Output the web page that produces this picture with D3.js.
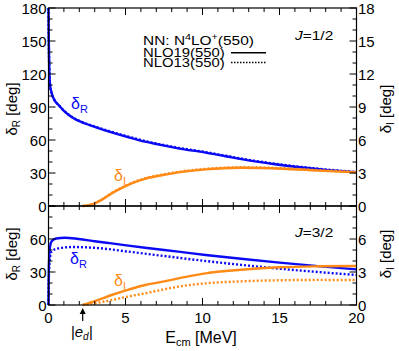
<!DOCTYPE html>
<html>
<head>
<script src="https://d3js.org/d3.v7.min.js"></script>
<style>
  body { margin: 0; background: #fff; }
  text { font-family: "Liberation Sans", Arial, sans-serif; }
  .frame { fill: none; stroke: #000; stroke-width: 1.2px; }
  .curve { fill: none; stroke-width: 2.4px; }
</style>
</head>
<body>
<div id="chart"></div>
<script>
// J=1/2 panel
const topRE = [0, 0.02, 0.05, 0.1, 0.2, 0.4, 0.64, 1.0, 1.5, 2.37, 3.0, 4.1, 5.2, 6.27, 7.35, 8.43, 10.2, 11.5, 13.1, 14.7, 16.3, 18.0, 20];
const topRSolid = [180, 150, 125, 110, 103, 96, 92, 86.5, 81, 75, 72, 67, 62.5, 58.5, 55.3, 52.4, 48.5, 45.2, 41.2, 38, 35.2, 32.8, 30.6];
const topRDotted = [180, 150, 125, 110, 103, 96, 92, 86.6, 81.2, 75.3, 72.3, 67.4, 63, 59, 55.8, 52.9, 49, 45.7, 41.7, 38.5, 35.7, 33.2, 31];
const topIE = [2.22, 2.6, 3.0, 3.5, 4.1, 4.7, 5.4, 6.2, 7.1, 8.43, 10.2, 12.4, 15.2, 17.5, 20];
const topISolid = [0, 0.08, 0.24, 0.6, 1.15, 1.6, 2.06, 2.45, 2.73, 3.06, 3.33, 3.48, 3.39, 3.22, 3.06];
const topIDotted = [0, 0.08, 0.25, 0.62, 1.18, 1.63, 2.09, 2.49, 2.78, 3.11, 3.38, 3.52, 3.43, 3.26, 3.09];

// J=3/2 panel
const botRE = [0, 0.02, 0.05, 0.1, 0.2, 0.5, 1.07, 1.94, 3.0, 4.1, 6.27, 8.43, 10.2, 12.5, 15, 17.5, 20];
const botRSolid = [0, 30, 45, 53, 58, 60.5, 61.2, 60, 58, 56, 52, 48.5, 45.5, 42, 38.5, 35.3, 32.4];
const botRDotE = [0, 0.02, 0.05, 0.1, 0.2, 0.64, 1.5, 3.0, 5.2, 7.35, 10.2, 12.5, 15, 17.5, 20];
const botRDotted = [0, 22, 35, 43, 48.5, 51.5, 52.7, 52, 48.5, 44.8, 40, 36.5, 33, 30, 27.3];
const botIE = [2.22, 3, 4.1, 5.2, 6.27, 7.35, 8.43, 10.2, 12.5, 15, 17.5, 20];
const botISolid = [0, 0.35, 0.91, 1.4, 1.82, 2.1, 2.42, 2.88, 3.2, 3.43, 3.52, 3.55];
const botIDotted = [0, 0.15, 0.45, 0.78, 1.06, 1.38, 1.67, 1.97, 2.15, 2.25, 2.28, 2.27];

const xTicks = [0, 5, 10, 15, 20];
const edThreshold = 2.22;

const width = 399, height = 351;
const blue = "#0a0af5", orange = "#ff8a16";
const left = 48.5, right = 356.5;
const stretch = 1.19; // the reference font is drawn wide

const svg = d3.select("#chart").append("svg")
  .attr("width", width).attr("height", height);

const x = d3.scaleLinear().domain([0, 20]).range([left, right]);

const panels = [
  { top: 8, bottom: 206, yMax: 180, yTicks: d3.range(0, 181, 30), iTicks: d3.range(0, 19, 3), showX: false,
    label: "1/2", labelY: 40, titleY: 109,
    curves: [
      { e: topRE, v: topRSolid, c: blue, dash: null, axis: "R" },
      { e: topRE, v: topRDotted, c: blue, dash: "2,2", axis: "R" },
      { e: topIE, v: topISolid, c: orange, dash: null, axis: "I" },
      { e: topIE, v: topIDotted, c: orange, dash: "2,2", axis: "I" }
    ],
    dR: [71, 109], dI: [114, 181] },
  { top: 206, bottom: 305, yMax: 90, yTicks: [0, 30, 60], iTicks: [0, 3, 6], showX: true,
    label: "3/2", labelY: 237, titleY: 254,
    curves: [
      { e: botRE, v: botRSolid, c: blue, dash: null, axis: "R" },
      { e: botRDotE, v: botRDotted, c: blue, dash: "2,2", axis: "R" },
      { e: botIE, v: botISolid, c: orange, dash: null, axis: "I" },
      { e: botIE, v: botIDotted, c: orange, dash: "2,2", axis: "I" }
    ],
    dR: [70, 264], dI: [114, 286] }
];

panels.forEach(p => {
  const y = d3.scaleLinear().domain([0, p.yMax]).range([p.bottom, p.top]);
  const yI = d3.scaleLinear().domain([0, p.yMax / 10]).range([p.bottom, p.top]);
  const g = svg.append("g");

  // curves
  p.curves.forEach(cv => {
    const sc = cv.axis === "R" ? y : yI;
    const line = d3.line().x(d => x(d[0])).y(d => sc(d[1])).curve(d3.curveMonotoneX);
    g.append("path")
      .datum(cv.e.map((e, i) => [e, cv.v[i]]))
      .attr("class", "curve")
      .attr("stroke", cv.c)
      .attr("stroke-dasharray", cv.dash)
      .attr("d", line);
  });

  // ticks: x minor every 1, major every 5
  d3.range(0, 21, 1).forEach(t => {
    const len = t % 5 === 0 ? 7 : 4;
    g.append("line").attr("x1", x(t)).attr("x2", x(t)).attr("y1", p.bottom).attr("y2", p.bottom - len).attr("stroke", "#000");
    g.append("line").attr("x1", x(t)).attr("x2", x(t)).attr("y1", p.top).attr("y2", p.top + len).attr("stroke", "#000");
  });
  d3.range(0, p.yMax + 1, 10).forEach(t => {
    const len = t % 30 === 0 ? 7 : 4;
    g.append("line").attr("x1", left).attr("x2", left + len).attr("y1", y(t)).attr("y2", y(t)).attr("stroke", "#000");
    g.append("line").attr("x1", right).attr("x2", right - len).attr("y1", y(t)).attr("y2", y(t)).attr("stroke", "#000");
  });

  g.append("rect").attr("class", "frame")
    .attr("x", left).attr("y", p.top).attr("width", right - left).attr("height", p.bottom - p.top);

  // tick labels
  p.yTicks.forEach(t => {
    g.append("text").attr("x", left - 2).attr("y", y(t) + 5.5).attr("text-anchor", "end")
      .attr("font-size", 15).text(t);
  });
  p.iTicks.forEach(t => {
    g.append("text").attr("x", right + 1.5).attr("y", yI(t) + 5.5).attr("text-anchor", "start")
      .attr("font-size", 15).text(t);
  });

  // axis titles
  const tl = g.append("text").attr("transform", `translate(17,${p.titleY}) rotate(-90)`)
    .attr("text-anchor", "middle").attr("font-size", 15);
  tl.append("tspan").text("δ");
  tl.append("tspan").attr("font-size", 10).attr("dy", 3).text("R");
  tl.append("tspan").attr("dy", -3).text(" [deg]");
  const tr = g.append("text").attr("transform", `translate(391,${p.titleY}) rotate(-90)`)
    .attr("text-anchor", "middle").attr("font-size", 15);
  tr.append("tspan").text("δ");
  tr.append("tspan").attr("font-size", 10).attr("dy", 3).text("I");
  tr.append("tspan").attr("dy", -3).text(" [deg]");

  // J labels
  const jl = g.append("text").attr("transform", `translate(295,${p.labelY}) scale(${stretch},1)`).attr("font-size", 13);
  jl.append("tspan").attr("font-style", "italic").text("J");
  jl.append("tspan").text("=" + p.label);

  // curve labels
  const lr = g.append("text").attr("x", p.dR[0]).attr("y", p.dR[1]).attr("fill", blue).attr("font-size", 16);
  lr.append("tspan").text("δ");
  lr.append("tspan").attr("font-size", 11).attr("dy", 4).text("R");
  const li = g.append("text").attr("x", p.dI[0]).attr("y", p.dI[1]).attr("fill", orange).attr("font-size", 16);
  li.append("tspan").text("δ");
  li.append("tspan").attr("font-size", 11).attr("dy", 4).text("I");

  if (p.showX) {
    xTicks.forEach(t => {
      g.append("text").attr("x", x(t)).attr("y", 322.5).attr("text-anchor", "middle")
        .attr("font-size", 15).text(t);
    });
  }
});

// legend
const lg = svg.append("g").attr("transform", `translate(143,0) scale(${stretch},1)`);
const t1 = lg.append("text").attr("x", 0).attr("y", 45).attr("font-size", 13);
t1.append("tspan").text("NN: N");
t1.append("tspan").attr("font-size", 9).attr("dy", -5).text("4");
t1.append("tspan").attr("dy", 5).text("LO");
t1.append("tspan").attr("font-size", 9).attr("dy", -5).text("+");
t1.append("tspan").attr("dy", 5).text("(550)");
lg.append("text").attr("x", 0).attr("y", 57.5).attr("font-size", 12.5).text("NLO19(550)");
lg.append("text").attr("x", 0).attr("y", 67.5).attr("font-size", 12.5).text("NLO13(550)");
svg.append("line").attr("x1", 231).attr("x2", 266).attr("y1", 52.7).attr("y2", 52.7).attr("stroke", "#000").attr("stroke-width", 1.5);
svg.append("line").attr("x1", 231).attr("x2", 266).attr("y1", 62.5).attr("y2", 62.5).attr("stroke", "#000").attr("stroke-width", 1.5).attr("stroke-dasharray", "1.5,1.5");

// x-axis title
const xt = svg.append("text").attr("x", 201).attr("y", 343).attr("text-anchor", "middle").attr("font-size", 16);
xt.append("tspan").text("E");
xt.append("tspan").attr("font-size", 11).attr("dy", 3).text("cm");
xt.append("tspan").attr("dy", -3).text(" [MeV]");

// |e_d| marker
const ex = x(edThreshold);
svg.append("line").attr("x1", ex).attr("x2", ex).attr("y1", 321).attr("y2", 312).attr("stroke", "#000").attr("stroke-width", 1.2);
svg.append("path").attr("d", `M${ex - 3},${314} L${ex},${308} L${ex + 3},${314} Z`).attr("fill", "#000");
const ed = svg.append("text").attr("x", ex - 1).attr("y", 337).attr("text-anchor", "middle").attr("font-size", 15).attr("font-style", "italic");
ed.append("tspan").text("|e");
ed.append("tspan").attr("font-size", 10).attr("dy", 3).text("d");
ed.append("tspan").attr("dy", -3).text("|");
</script>
</body>
</html>
